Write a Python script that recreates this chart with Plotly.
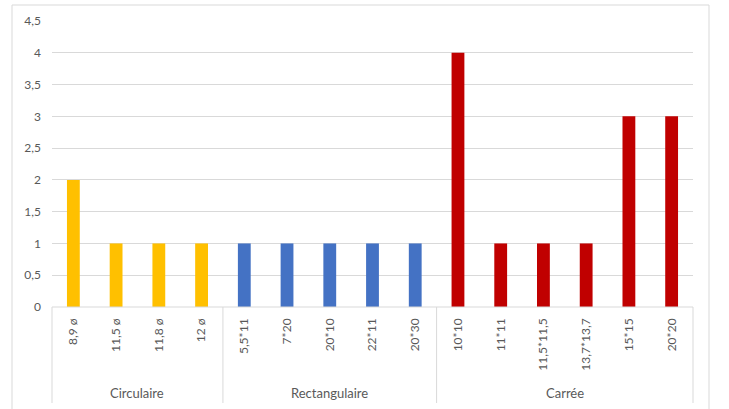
import plotly.graph_objects as go

# Category labels, group names and counts
circ_labels = ["8,9 ø", "11,5 ø", "11,8 ø", "12 ø"]
circ_values = [2, 1, 1, 1]
rect_labels = ["5,5*11", "7*20", "20*10", "22*11", "20*30"]
rect_values = [1, 1, 1, 1, 1]
carre_labels = ["10*10", "11*11", "11,5*11,5", "13,7*13,7", "15*15", "20*20"]
carre_values = [4, 1, 1, 1, 3, 3]

groups = [
    ("Circulaire", circ_labels, circ_values, "#FFC000"),
    ("Rectangulaire", rect_labels, rect_values, "#4472C4"),
    ("Carrée", carre_labels, carre_values, "#C00000"),
]

y_ticks = [0, 0.5, 1, 1.5, 2, 2.5, 3, 3.5, 4, 4.5]
y_ticktext = [("%g" % v).replace(".", ",") for v in y_ticks]

GRID = "#D9D9D9"
TEXT = "#595959"
FONT = "Lato"

W, H = 729, 409
ML, MR, MT, MB = 52, 36, 21, 102
plot_w = W - ML - MR
plot_h = H - MT - MB

fig = go.Figure()

all_labels = []
all_colors = []
all_values = []
for name, labels, values, color in groups:
    all_labels += labels
    all_values += values
    all_colors += [color] * len(labels)

n = len(all_labels)
xs = list(range(n))

fig.add_trace(go.Bar(
    x=xs, y=all_values, marker=dict(color=all_colors, line=dict(width=0)),
    width=0.3, showlegend=False, hoverinfo="skip",
))

x0, x1 = -0.5, n - 0.5


def xpaper(v):
    return (v - x0) / (x1 - x0)


def ypx_to_paper(py):
    return (H - MB - py) / plot_h


shapes = []
# outer chart border
shapes.append(dict(type="rect", xref="paper", yref="paper",
                   x0=(12 - ML) / plot_w, x1=(709 - ML) / plot_w,
                   y0=ypx_to_paper(H + 5), y1=ypx_to_paper(5),
                   line=dict(color=GRID, width=1), fillcolor="rgba(0,0,0,0)",
                   layer="below"))
# category axis line
shapes.append(dict(type="line", xref="paper", yref="paper", x0=0, x1=1, y0=0, y1=0,
                   line=dict(color=GRID, width=1)))

# group dividers and group labels
annotations = []
start = 0
bounds = [x0]
for name, labels, values, color in groups:
    end = start + len(labels)
    bounds.append(end - 0.5)
    annotations.append(dict(
        x=xpaper((start + end - 1) / 2), y=ypx_to_paper(393),
        xref="paper", yref="paper", text=name, showarrow=False,
        xanchor="center", yanchor="middle",
        font=dict(family=FONT, size=13, color=TEXT),
    ))
    start = end
for b in bounds:
    shapes.append(dict(type="line", xref="paper", yref="paper",
                       x0=xpaper(b), x1=xpaper(b), y0=0, y1=ypx_to_paper(403),
                       line=dict(color=GRID, width=1)))

fig.update_layout(
    width=W, height=H,
    margin=dict(l=ML, r=MR, t=MT, b=MB),
    paper_bgcolor="white", plot_bgcolor="white",
    bargap=0.7,
    shapes=shapes, annotations=annotations,
    font=dict(family=FONT, size=12, color=TEXT),
    xaxis=dict(range=[x0, x1], tickmode="array", tickvals=xs, ticktext=all_labels,
               tickangle=-90, showgrid=False, zeroline=False, showline=False,
               ticks="", tickfont=dict(family=FONT, size=12, color=TEXT),
               ticklabelstandoff=8, fixedrange=True),
    yaxis=dict(range=[0, 4.5], tickmode="array", tickvals=y_ticks, ticktext=y_ticktext,
               showgrid=True, gridcolor=GRID, gridwidth=1, zeroline=False,
               showline=False, ticks="", tickfont=dict(family=FONT, size=12, color=TEXT),
               ticklabelstandoff=10, fixedrange=True),
)

fig.write_html("out.html")
